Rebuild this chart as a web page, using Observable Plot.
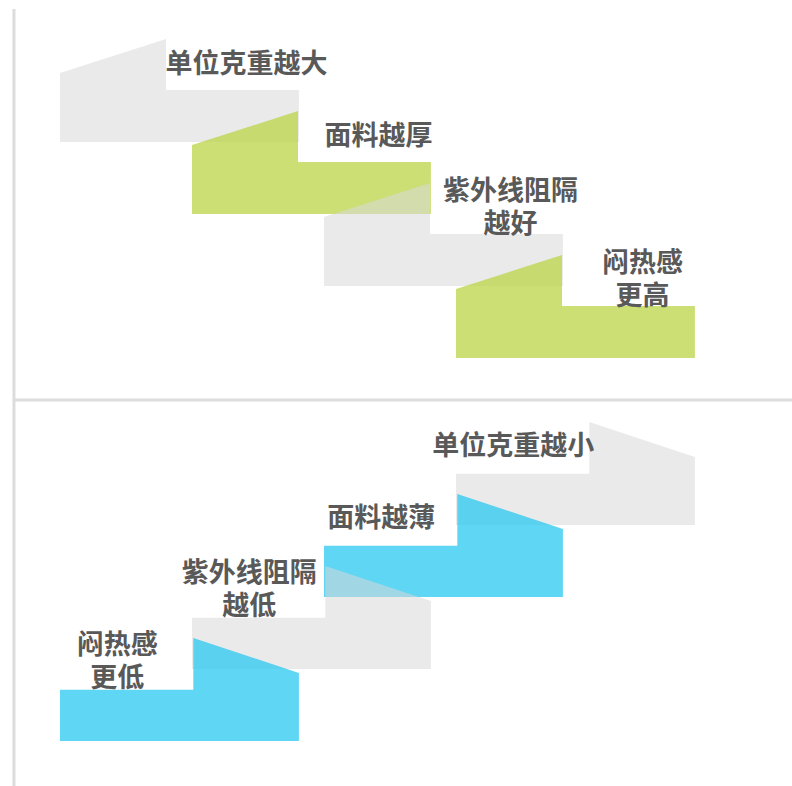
<!DOCTYPE html>
<html>
<head>
<meta charset="utf-8">
<script src="https://cdn.jsdelivr.net/npm/d3@7"></script>
<script src="https://cdn.jsdelivr.net/npm/@observablehq/plot@0.6"></script>
<style>
  html, body { margin: 0; padding: 0; background: #fff; }
  #chart svg { display: block; }
</style>
</head>
<body>
<div id="chart"></div>
<script>
// ---------- data ----------
const topLabels = ["单位克重越大", "面料越厚", "紫外线阻隔\n越好", "闷热感\n更高"];
const topKinds = ["neutral", "green", "neutral", "green"];
const topSteps = [0, 1, 2, 3];

const bottomLabels = ["闷热感\n更低", "紫外线阻隔\n越低", "面料越薄", "单位克重越小"];
const bottomKinds = ["blue", "neutral", "blue", "neutral"];
const bottomSteps = [0, 1, 2, 3];

// ---------- layout (step units: 1 x-unit = one step across, 1 y-unit = one step up) ----------
const W = 792, H = 786;
const xDomain = [0, 6];
const yDomain = [0, 786 / 72];
const x0 = 0.4545;             // left edge of the first step
const topBase0 = 8.944;        // base of first (highest) step in top panel
const bottomBase0 = 0.625;     // base of first (lowest) step in bottom panel

// step outline templates (relative to a step's left/base corner)
const topTemplate = [[0, 0.958], [0.803, 1.431], [0.803, 0.722], [1.81, 0.722]];
const bottomTemplate = [[0, 0.712], [1.01, 0.712], [1.01, 1.431], [1.81, 0.944]];

// ---------- build shape rows ----------
const shapes = [];
const labels = [];
// top panel: higher steps first, lower steps drawn on top
topSteps.forEach((s, i) => {
  const left = x0 + s, base = topBase0 - s;
  topTemplate.forEach(([dx, dy]) => shapes.push({id: "t" + i, kind: topKinds[i], x: left + dx, y1: base, y2: base + dy}));
  labels.push({x: left + 1.41, y: base + 1.115, text: topLabels[i]});
});
// bottom panel: draw from the highest (right) step down so lower ones sit on top
[...bottomSteps].reverse().forEach((s) => {
  const i = bottomSteps.indexOf(s);
  const left = x0 + s, base = bottomBase0 + s;
  bottomTemplate.forEach(([dx, dy]) => shapes.push({id: "b" + i, kind: bottomKinds[i], x: left + dx, y1: base, y2: base + dy}));
  labels.push({x: left + 0.43, y: base + 1.13, text: bottomLabels[i]});
});

const chart = Plot.plot({
  width: W,
  height: H,
  margin: 0,
  x: {domain: xDomain, axis: null},
  y: {domain: yDomain, axis: null},
  color: {
    domain: ["neutral", "green", "blue"],
    range: ["rgba(217,217,217,0.55)", "rgba(186,212,71,0.75)", "rgba(40,200,240,0.75)"]
  },
  style: {background: "#fff"},
  marks: [
    Plot.ruleX([0.102], {y1: 0, y2: 10.79, stroke: "#dcdcdc", strokeWidth: 3}),
    Plot.ruleY([5.368], {x1: 0.114, x2: 6, stroke: "#dcdcdc", strokeWidth: 3}),
    Plot.areaY(shapes, {x: "x", y1: "y1", y2: "y2", z: "id", fill: "kind", curve: "linear"}),
    Plot.text(labels, {
      x: "x", y: "y", text: "text",
      fontSize: 27, fontWeight: "bold",
      fontFamily: "'Noto Sans CJK SC', 'Noto Sans', sans-serif",
      fill: "#595959", textAnchor: "middle", lineAnchor: "middle", lineHeight: 1.2
    })
  ]
});
document.getElementById("chart").appendChild(chart);
</script>
</body>
</html>
